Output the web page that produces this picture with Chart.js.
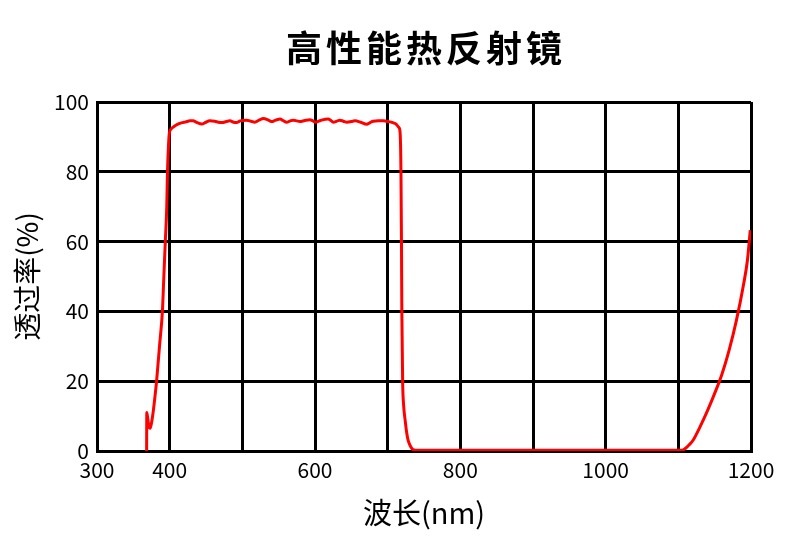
<!DOCTYPE html>
<html>
<head>
<meta charset="utf-8">
<script src="https://cdn.jsdelivr.net/npm/chart.js@4.4.1/dist/chart.umd.min.js"></script>
<style>
  html, body { margin: 0; padding: 0; background: #fff; }
  #wrap { width: 800px; height: 550px; }
</style>
</head>
<body>
<div id="wrap"><canvas id="mirrorChart"></canvas></div>
<script>
// Transmission curve
const wavelengths = [
    368.3, 368.5, 370, 371.5, 373, 375, 377.5, 380, 382, 386, 390, 392, 394, 396, 397, 398.5, 399.5,
    402, 406, 410, 416, 422, 428, 432, 438, 444, 450, 455, 462, 467, 472, 478, 483, 488, 492, 497,
    506, 512, 517, 523, 529, 535, 540, 546, 552, 556, 561, 566, 570, 575, 579, 586, 593, 597, 600,
    605, 609, 618, 622, 625, 630, 634, 639, 644, 650, 655, 663, 671, 676, 680, 687, 694, 701, 707,
    712, 715, 717, 718.3, 719, 719.5, 720.6, 722, 724, 726, 728, 731, 735, 742,
    760, 790, 820, 850, 880, 910, 940, 970, 1000, 1030, 1060, 1090, 1105,
    1110, 1115, 1120, 1130, 1140, 1150, 1160, 1170, 1180, 1190, 1195, 1199
];
const transmittance = [
    0, 11, 9, 7, 6.5, 8, 11.5, 16, 20, 30, 40, 50, 60, 70, 80, 88, 91,
    92.3, 93, 93.5, 94, 94.3, 94.6, 94.6, 94.1, 93.7, 94.2, 94.6, 94.5, 94.2, 94.1, 94.4, 94.6, 94.2, 94.1, 94.6,
    94.8, 94.5, 94.2, 94.8, 95.3, 94.9, 94.4, 94.8, 95.1, 94.7, 94.2, 94.6, 94.8, 94.6, 94.4, 94.7, 94.9, 94.6, 94.2,
    94.5, 94.8, 95.1, 94.7, 94.2, 94.5, 94.8, 94.5, 94.2, 94.4, 94.6, 94.2, 93.6, 94.1, 94.5, 94.6, 94.6, 94.4, 94.1,
    93.6, 92.8, 91.5, 80, 60, 40, 20, 13, 8.9, 5.5, 3.2, 1.5, 0.4, 0.2,
    0.2, 0.25, 0.2, 0.25, 0.2, 0.25, 0.2, 0.25, 0.2, 0.2, 0.25, 0.2, 0.2,
    0.8, 1.8, 3, 7, 11.5, 16.5, 22, 29, 37.5, 48, 54.5, 63.3
];
const xTickLabels = [300, 400, 600, 800, 1000, 1200];

const fontFamily = '"Noto Sans CJK SC", "Noto Sans", sans-serif';

// Title drawn over the centre of the plot area
const titlePlugin = {
    id: 'centerTitle',
    afterDraw(chart) {
        const { ctx, chartArea } = chart;
        ctx.save();
        ctx.font = 'bold 36px ' + fontFamily;
        ctx.letterSpacing = '4px';
        ctx.fillStyle = '#000';
        ctx.textAlign = 'center';
        ctx.textBaseline = 'middle';
        ctx.fillText('高性能热反射镜', (chartArea.left + chartArea.right) / 2 + 2, 48);
        ctx.restore();
    }
};

new Chart(document.getElementById('mirrorChart'), {
    type: 'line',
    data: {
        datasets: [{
            data: wavelengths.map((w, i) => ({ x: w, y: transmittance[i] })),
            borderColor: '#ff0000',
            borderWidth: 3,
            pointRadius: 0,
            cubicInterpolationMode: 'monotone',
            fill: false
        }]
    },
    options: {
        responsive: true,
        maintainAspectRatio: false,
        animation: false,
        devicePixelRatio: 1,
        layout: { padding: { top: 102, right: 49, bottom: 0, left: 0 } },
        plugins: {
            legend: { display: false },
            tooltip: { enabled: false }
        },
        scales: {
            x: {
                type: 'linear',
                min: 300,
                max: 1200,
                afterFit: scale => { scale.height = 99; },
                ticks: {
                    stepSize: 100,
                    padding: 6,
                    color: '#000',
                    font: { family: fontFamily, size: 21 },
                    maxRotation: 0,
                    autoSkip: false,
                    callback: v => xTickLabels.includes(v) ? String(v) : ''
                },
                grid: { color: '#000', lineWidth: 3, drawTicks: false },
                border: { color: '#000', width: 3 },
                title: {
                    display: true,
                    text: '波长(nm)',
                    color: '#000',
                    font: { family: fontFamily, size: 29 },
                    padding: { top: 0, bottom: 20 }
                }
            },
            y: {
                min: 0,
                max: 100,
                afterFit: scale => { scale.width = 97; },
                ticks: {
                    stepSize: 20,
                    padding: 8,
                    color: '#000',
                    font: { family: fontFamily, size: 21 }
                },
                grid: { color: '#000', lineWidth: 3, drawTicks: false },
                border: { color: '#000', width: 3 },
                title: {
                    display: true,
                    text: '透过率(%)',
                    color: '#000',
                    font: { family: fontFamily, size: 28 },
                    padding: { top: 11, bottom: 0 }
                }
            }
        }
    },
    plugins: [titlePlugin]
});
</script>
</body>
</html>
